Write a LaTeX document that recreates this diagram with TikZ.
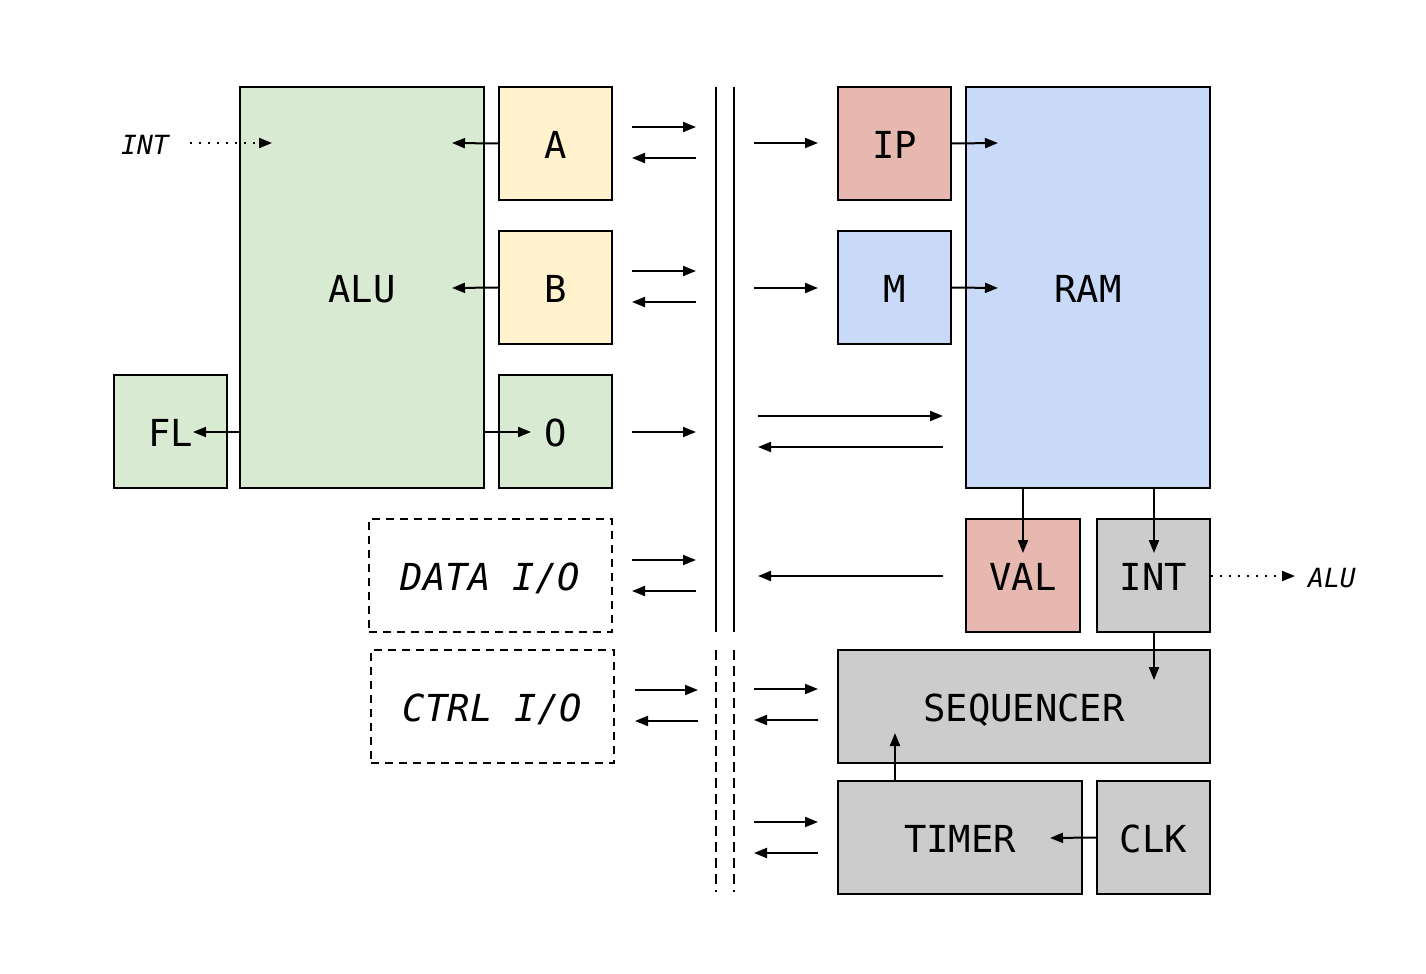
\documentclass[tikz,border=0pt]{standalone}
\usepackage{fontspec}
\setmonofont{DejaVu Sans Mono}
\usetikzlibrary{arrows.meta}

\definecolor{alugreen}{HTML}{D9EAD3}
\definecolor{regyellow}{HTML}{FFF2CC}
\definecolor{ipred}{HTML}{E6B8AF}
\definecolor{ramblue}{HTML}{C9DAF8}
\definecolor{ctlgray}{HTML}{CCCCCC}

\begin{document}
\begin{tikzpicture}[x=0.5pt,y=-0.5pt,
  box/.style={draw, line width=1pt, inner sep=0pt, text height=15pt, text depth=0pt,
    font=\ttfamily\fontsize{18.6}{22}\selectfont},
  sq/.style={box, minimum width=56.5pt, minimum height=56.5pt},
  tall/.style={box, minimum width=122pt, minimum height=200.5pt},
  wide/.style={box, minimum width=121.5pt, minimum height=56.5pt},
  io/.style={wide, dash pattern=on 4pt off 3pt, font=\ttfamily\itshape\fontsize{18.6}{22}\selectfont},
  arr/.style={line width=1pt, -{Triangle[length=6.5pt,width=5pt]}},
  dots/.style={arr, dash pattern=on 1pt off 3.5pt},
  bus/.style={line width=1pt},
  tag/.style={font=\ttfamily\itshape\fontsize{13.2}{15}\selectfont}
]

\useasboundingbox (0,0) rectangle (1426,974);

% left side
\node [tall, fill=alugreen] (alu) at (362,287.5) {ALU};
\node [sq, fill=regyellow] (a) at (555.5,143.5) {A};
\node [sq, fill=regyellow] (b) at (555.5,287.5) {B};
\node [sq, fill=alugreen] (o) at (555.5,431.5) {O};
\node [sq, fill=alugreen] (fl) at (170.5,431.5) {FL};
\node [io] (dataio) at (490.5,575.5) {DATA I/O};
\node [io] (ctrlio) at (492.5,706.5) {CTRL I/O};
\node [tag] (intin) at (145,145) {INT};

% right side
\node [sq, fill=ipred] (ip) at (894.5,143.5) {IP};
\node [sq, fill=ramblue] (m) at (894.5,287.5) {M};
\node [tall, fill=ramblue] (ram) at (1088,287.5) {RAM};
\node [sq, minimum width=57pt, fill=ipred] (val) at (1023,575.5) {VAL};
\node [sq, fill=ctlgray] (int) at (1153.5,575.5) {INT};
\node [box, minimum width=186pt, minimum height=56.5pt, fill=ctlgray] (seq) at (1024,706.5) {SEQUENCER};
\node [wide, minimum width=122pt, fill=ctlgray] (timer) at (960,837.5) {TIMER};
\node [sq, fill=ctlgray] (clk) at (1153.5,837.5) {CLK};
\node [tag] (aluout) at (1332,578) {ALU};

% free ends
\coordinate (aluint) at (272,143);
\coordinate (alua) at (452,143);
\coordinate (alub) at (452,288);
\coordinate (oin) at (531,432);
\coordinate (flin) at (193,432);
\coordinate (ramip) at (998,143);
\coordinate (ramm) at (998,288);
\coordinate (valin) at (1023,553);
\coordinate (intin2) at (1154,553);
\coordinate (seqint) at (1154,680);
\coordinate (seqtim) at (895,733);
\coordinate (timclk) at (1050,838);
\coordinate (intdot) at (1295,576);

% bus
\coordinate (busAtop) at (716,87);
\coordinate (busAbot) at (716,632);
\coordinate (busBtop) at (734,87);
\coordinate (busBbot) at (734,632);
\coordinate (ctlAtop) at (716,650);
\coordinate (ctlAbot) at (716,892);
\coordinate (ctlBtop) at (734,650);
\coordinate (ctlBbot) at (734,892);
\draw [bus] (busAtop) -- (busAbot);
\draw [bus] (busBtop) -- (busBbot);
\draw [bus, dash pattern=on 5pt off 3pt] (ctlAtop) -- (ctlAbot);
\draw [bus, dash pattern=on 5pt off 3pt] (ctlBtop) -- (ctlBbot);

% arrows inside the units
\draw [dots] (190,143) -- (aluint);
\draw [arr] (a.west) -- (alua);
\draw [arr] (b.west) -- (alub);
\draw [arr] (alu.east |- oin) -- (oin);
\draw [arr] (alu.west |- flin) -- (flin);
\draw [arr] (ip.east) -- (ramip);
\draw [arr] (m.east) -- (ramm);
\draw [arr] (ram.south -| valin) -- (valin);
\draw [arr] (ram.south -| intin2) -- (intin2);
\draw [arr] (int.south -| seqint) -- (seqint);
\draw [arr] (timer.north -| seqtim) -- (seqtim);
\draw [arr] (clk.west) -- (timclk);
\draw [dots] (int.east |- intdot) -- (intdot);

% to and from the bus, left
\foreach \n/\y/\xa/\xb in {a/127/632/696, b/271/632/696, d/560/632/696, c/690/635/698} {
  \coordinate (l\n) at (\xa,\y);
  \coordinate (r\n) at (\xb,\y);
  \draw [arr] (l\n) -- (r\n);
}
\foreach \n/\y/\xa/\xb in {a/158/632/696, b/302/632/696, d/591/632/696, c/721/635/698} {
  \coordinate (ll\n) at (\xa,\y);
  \coordinate (rr\n) at (\xb,\y);
  \draw [arr] (rr\n) -- (ll\n);
}
\coordinate (lo) at (632,432);
\coordinate (ro) at (696,432);
\draw [arr] (lo) -- (ro);

% to and from the bus, right
\foreach \n/\y/\xa/\xb in {ip/143/754/818, m/288/754/818, ram/416/758/943, seq/689/754/818, tim/822/754/818} {
  \coordinate (bl\n) at (\xa,\y);
  \coordinate (br\n) at (\xb,\y);
  \draw [arr] (bl\n) -- (br\n);
}
\foreach \n/\y/\xa/\xb in {ram/447/758/943, val/576/758/943, seq/720/754/818, tim/853/754/818} {
  \coordinate (cl\n) at (\xa,\y);
  \coordinate (cr\n) at (\xb,\y);
  \draw [arr] (cr\n) -- (cl\n);
}
\end{tikzpicture}
\end{document}
